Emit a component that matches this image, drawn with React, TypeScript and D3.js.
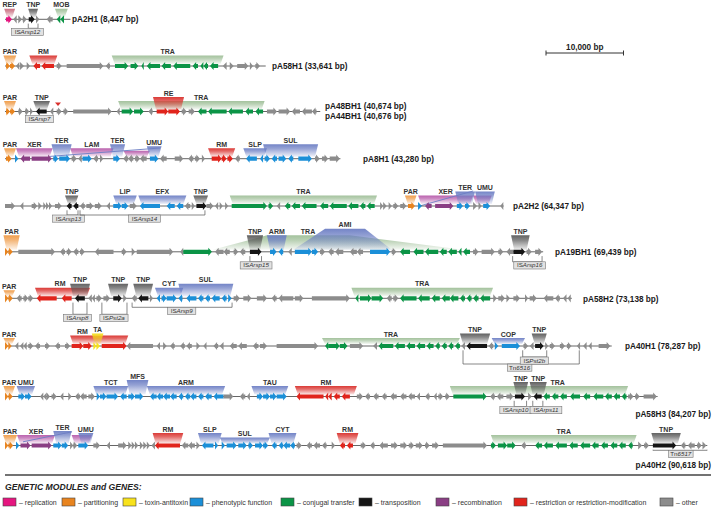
import React from 'react';
import * as d3 from 'd3';

type Gene = [number, number, number, string];
type ModOpts = { bot?: [number, number]; labelAt?: number };
type Mod = [number, number, string, string, number, ModOpts?];
type ISel = [number, number, number, number, string, string];
type Diag = [number, number, number, number];

// ---------- DATA (kb) ----------
const PLASMID_NAMES = ['pA2H1', 'pA58H1', 'pA48BH1', 'pA8H1', 'pA2H2', 'pA19BH1', 'pA58H2', 'pA40H1', 'pA58H3', 'pA40H2'];
const PLASMID_SIZES = [8447, 33641, 40674, 43280, 64347, 69439, 73138, 78287, 84207, 90618];
const EXTRA_NAME = 'pA44BH1';
const EXTRA_SIZE = 40676;

const GENES_A2H1: Gene[] = [
  [0.13, 0.9, 1, 'rep'], [1.07, 1.51, -1, 'oth'], [1.72, 2.19, 1, 'oth'], [2.28, 2.8, 1, 'oth'],
  [3.06, 3.83, 1, 'tnp'], [4.0, 4.43, 1, 'oth'], [5.38, 6.15, -1, 'oth'], [6.67, 7.14, -1, 'con'], [7.14, 7.61, -1, 'con'],
];
const MODS_A2H1: Mod[] = [[-0.1, 1.3, 'REP', 'rep', 1], [3.0, 4.26, 'TNP', 'tnp', 1], [6.45, 8.1, 'MOB', 'con', 1]];
const IS_A2H1: ISel[] = [[3.0, 4.26, 2.9, 9, 'IS', 'Arsp12']];

const GENES_A58H1: Gene[] = [
  [0.13, 0.65, 1, 'par'], [0.65, 1.29, 1, 'par'], [1.42, 1.85, -1, 'oth'], [1.94, 2.45, 1, 'oth'], [2.8, 3.23, 1, 'oth'],
  [3.66, 4.52, -1, 'rm'], [4.73, 6.32, -1, 'rm'], [6.67, 7.32, 1, 'oth'], [7.96, 12.69, 1, 'oth'], [13.0, 13.55, -1, 'oth'],
  [14.19, 15.9, 1, 'con'], [16.2, 17.2, 1, 'con'], [17.6, 17.9, -1, 'con'], [18.3, 20.0, -1, 'con'], [20.2, 21.4, -1, 'con'],
  [21.7, 23.9, -1, 'con'], [24.2, 24.9, -1, 'con'], [25.2, 25.6, -1, 'con'], [25.6, 26.2, -1, 'con'], [26.45, 27.5, -1, 'con'],
  [28.1, 28.6, -1, 'oth'], [29.0, 29.5, 1, 'oth'], [29.96, 31.4, 1, 'oth'], [31.6, 32.0, 1, 'oth'], [32.3, 32.9, 1, 'oth'],
];
const MODS_A58H1: Mod[] = [[-0.2, 1.45, 'PAR', 'par', 1], [3.14, 6.75, 'RM', 'rm', 1], [13.77, 28.2, 'TRA', 'con', 1]];

const GENES_A48BH1: Gene[] = [
  [0.13, 0.65, 1, 'par'], [0.65, 1.29, 1, 'par'], [1.72, 2.28, 1, 'oth'], [2.58, 3.14, 1, 'oth'], [3.23, 3.6, 1, 'oth'],
  [4.0, 5.38, -1, 'tnp'], [5.8, 6.23, -1, 'oth'], [6.67, 7.32, 1, 'oth'], [7.53, 8.17, 1, 'oth'], [8.8, 13.77, 1, 'oth'],
  [14.4, 14.8, -1, 'oth'], [15.05, 16.55, 1, 'con'], [16.65, 17.9, 1, 'con'], [18.5, 19.05, -1, 'oth'],
  [19.57, 21.07, 1, 'rm'], [21.07, 22.58, 1, 'rm'], [22.8, 23.45, 1, 'oth'], [23.7, 24.5, 1, 'oth'],
  [24.9, 26.0, -1, 'con'], [26.2, 28.6, -1, 'con'], [28.8, 30.7, -1, 'con'], [31.0, 32.0, -1, 'con'], [32.3, 33.3, -1, 'con'],
  [33.8, 35.1, 1, 'oth'], [35.3, 36.8, 1, 'oth'], [37.0, 38.06, -1, 'oth'], [38.3, 39.6, -1, 'oth'], [39.6, 40.2, -1, 'oth'],
];
const MODS_A48BH1: Mod[] = [
  [-0.13, 1.42, 'PAR', 'par', 1], [3.66, 5.8, 'TNP', 'tnp', 1],
  [14.6, 33.5, 'TRA', 'con', 1, { labelAt: 25.3 }], [19.1, 23.1, 'RE', 'rm', 3],
];
const IS_A48BH1: ISel[] = [[3.87, 5.55, 4.45, 4, 'IS', 'Arsp7']];
const MARK_A48BH1 = [6.84];

const GENES_A8H1: Gene[] = [
  [0.13, 0.86, 1, 'par'], [1.29, 1.72, 1, 'phe'], [2.0, 3.23, -1, 'rec'], [3.44, 6.03, 1, 'rec'],
  [6.23, 6.88, 1, 'phe'], [7.0, 8.39, 1, 'phe'], [8.6, 9.25, 1, 'oth'], [9.46, 9.9, -1, 'oth'], [10.0, 11.19, 1, 'phe'],
  [11.4, 12.0, -1, 'oth'], [12.26, 12.68, 1, 'oth'], [13.97, 14.84, 1, 'phe'],
  [15.26, 15.9, -1, 'oth'], [15.9, 16.55, -1, 'oth'], [16.77, 17.42, 1, 'oth'], [17.42, 18.28, -1, 'oth'],
  [18.7, 19.8, 1, 'phe'], [20.0, 20.86, -1, 'oth'], [21.9, 23.0, 1, 'oth'], [23.65, 24.3, -1, 'oth'], [24.5, 25.16, 1, 'oth'],
  [25.4, 25.8, 1, 'oth'], [26.67, 27.96, 1, 'rm'], [27.96, 28.6, 1, 'rm'], [28.7, 29.4, 1, 'rm'], [29.68, 30.3, -1, 'oth'],
  [31.1, 32.5, -1, 'phe'], [32.9, 33.3, -1, 'phe'], [33.5, 34.2, 1, 'phe'], [34.4, 35.1, -1, 'phe'], [35.3, 36.3, 1, 'phe'],
  [36.55, 37.2, -1, 'phe'], [37.85, 39.6, 1, 'phe'], [40.0, 40.6, 1, 'oth'], [40.9, 41.7, 1, 'oth'], [41.9, 43.2, 1, 'oth'],
];
const MODS_A8H1: Mod[] = [
  [-0.13, 1.42, 'PAR', 'par', 1], [1.42, 6.15, 'XER', 'rec', 1], [8.4, 14.0, 'LAM', 'rec', 1], [15.3, 18.7, '', 'rec', 0],
  [6.0, 8.6, 'TER', 'phe', 3], [13.55, 15.5, 'TER', 'phe', 3], [18.3, 20.2, 'UMU', 'phe', 2],
  [26.2, 29.7, 'RM', 'rm', 1], [30.75, 33.8, 'SLP', 'phe', 1], [33.3, 40.4, 'SUL', 'phe', 3],
];
const DIAG_A8H1: Diag[] = [[5.8, 2.3, 20.0, 10.7]];

const GENES_A2H2: Gene[] = [
  [0.0, 1.29, 1, 'oth'], [1.94, 2.37, -1, 'oth'], [3.44, 4.17, 1, 'oth'], [4.3, 4.73, 1, 'oth'], [4.94, 5.3, 1, 'oth'],
  [5.3, 5.68, 1, 'oth'], [5.68, 6.06, 1, 'oth'], [6.45, 7.32, 1, 'oth'], [7.96, 8.6, -1, 'tnp'], [8.8, 9.46, -1, 'tnp'],
  [9.68, 10.3, -1, 'oth'], [10.5, 11.4, 1, 'oth'], [11.6, 12.48, 1, 'oth'], [13.1, 13.55, -1, 'oth'],
  [13.97, 15.06, 1, 'phe'], [15.06, 15.9, 1, 'phe'], [16.1, 17.0, 1, 'oth'],
  [17.4, 20.0, -1, 'phe'], [20.86, 21.9, -1, 'phe'], [22.15, 23.0, -1, 'phe'], [23.2, 23.9, -1, 'oth'], [24.1, 24.5, 1, 'oth'],
  [24.7, 26.0, 1, 'tnp'], [26.0, 26.9, 1, 'oth'], [27.1, 27.5, -1, 'oth'], [27.7, 28.1, 1, 'oth'], [28.4, 28.8, 1, 'oth'],
  [29.25, 33.8, 1, 'con'], [34.0, 34.6, 1, 'con'], [35.05, 35.5, -1, 'oth'],
  [36.1, 36.8, -1, 'con'], [37.0, 38.06, -1, 'con'], [38.3, 40.2, -1, 'con'], [40.65, 41.7, -1, 'con'], [41.9, 44.1, -1, 'con'],
  [44.3, 45.6, -1, 'con'], [45.8, 46.5, -1, 'con'], [46.7, 47.7, -1, 'con'],
  [48.4, 48.8, 1, 'oth'], [48.8, 49.25, 1, 'oth'], [49.5, 49.9, 1, 'oth'], [50.1, 50.75, 1, 'oth'], [51.0, 51.8, 1, 'oth'],
  [52.0, 52.9, 1, 'par'], [53.3, 53.8, 1, 'phe'], [54.2, 55.05, -1, 'rec'], [55.5, 57.85, 1, 'rec'],
  [58.3, 59.1, 1, 'phe'], [59.35, 60.0, 1, 'phe'], [60.4, 60.9, 1, 'oth'], [61.1, 61.5, 1, 'oth'], [61.7, 62.6, 1, 'phe'],
  [63.9, 64.3, -1, 'oth'],
];
const MODS_A2H2: Mod[] = [
  [7.74, 9.46, 'TNP', 'tnp', 1], [13.97, 17.0, 'LIP', 'phe', 1], [17.2, 23.4, 'EFX', 'phe', 1], [24.3, 26.2, 'TNP', 'tnp', 1],
  [29.0, 48.0, 'TRA', 'con', 1], [51.6, 53.1, 'PAR', 'par', 1], [53.3, 60.4, 'XER', 'rec', 1], [60.4, 62.8, '', 'rec', 1],
  [58.1, 60.65, 'TER', 'phe', 3], [60.65, 63.2, 'UMU', 'phe', 3],
];
const IS_A2H2: ISel[] = [[8.0, 9.42, 8.2, 9, 'IS', 'Arsp13'], [9.68, 25.8, 18.0, 9, 'IS', 'Arsp14']];
const DIAG_A2H2: Diag[] = [[53.5, 0, 60.4, 15]];

const GENES_A19BH1: Gene[] = [
  [0, 0.43, 1, 'par'], [0.43, 1.0, 1, 'par'], [1.72, 6.45, 1, 'oth'], [7.1, 7.74, -1, 'oth'], [7.96, 8.6, 1, 'oth'],
  [8.8, 9.46, -1, 'oth'], [9.68, 10.3, 1, 'oth'], [11.6, 14.0, -1, 'oth'], [15.06, 15.7, 1, 'oth'], [16.35, 16.8, 1, 'oth'],
  [17.0, 21.7, 1, 'oth'], [22.6, 23.0, -1, 'oth'], [23.0, 26.7, 1, 'con'], [27.1, 28.2, -1, 'oth'], [28.2, 29.0, -1, 'oth'],
  [29.5, 30.1, 1, 'oth'], [30.3, 31.0, -1, 'oth'], [31.6, 33.1, 1, 'tnp'], [34.2, 35.05, 1, 'phe'], [35.3, 35.9, -1, 'phe'],
  [36.55, 37.0, -1, 'oth'], [37.4, 39.6, 1, 'phe'], [39.6, 40.4, 1, 'phe'], [40.65, 41.3, 1, 'oth'], [41.7, 42.4, -1, 'oth'],
  [42.6, 43.65, -1, 'oth'], [44.5, 45.4, -1, 'oth'], [45.4, 46.2, -1, 'oth'], [47.1, 49.7, 1, 'phe'], [49.9, 50.5, 1, 'oth'],
  [50.97, 52.26, -1, 'con'], [52.7, 54.0, -1, 'con'], [54.2, 55.9, -1, 'con'], [56.1, 57.0, -1, 'con'], [57.2, 58.3, -1, 'con'],
  [58.5, 58.9, -1, 'con'], [59.1, 60.0, -1, 'con'], [60.4, 61.1, 1, 'oth'], [61.5, 63.2, 1, 'oth'], [63.65, 64.3, 1, 'oth'],
  [64.7, 65.6, -1, 'oth'], [65.6, 67.1, 1, 'tnp'], [67.3, 67.96, 1, 'oth'], [68.4, 69.3, 1, 'oth'],
];
const MODS_A19BH1: Mod[] = [
  [-0.2, 1.9, 'PAR', 'par', 4],
  [33.8, 44.5, 'TRA', 'con', 4, { bot: [26.8, 59.1], labelAt: 39.1 }],
  [31.2, 33.3, 'TNP', 'tnp', 4], [33.8, 36.35, 'ARM', 'phe', 4],
  [41.3, 46.45, 'AMI', 'phe', 5, { bot: [37.2, 49.9] }],
  [65.3, 67.7, 'TNP', 'tnp', 4],
];
const IS_A19BH1: ISel[] = [[31.6, 33.1, 32.4, 10, 'IS', 'Arsp15'], [65.5, 69.3, 67.7, 10, 'IS', 'Arsp16']];

const GENES_A58H2: Gene[] = [
  [0, 0.43, 1, 'par'], [0.43, 1.0, 1, 'par'], [1.5, 2.15, -1, 'oth'], [2.37, 3.0, 1, 'oth'], [3.0, 3.65, 1, 'oth'],
  [4.1, 6.67, -1, 'rm'], [7.32, 8.6, -1, 'rm'], [9.03, 10.3, -1, 'tnp'], [10.75, 11.2, -1, 'oth'], [11.2, 11.6, -1, 'oth'],
  [11.8, 12.5, 1, 'oth'], [12.7, 13.55, 1, 'oth'], [13.97, 15.06, 1, 'tnp'], [15.26, 15.7, 1, 'oth'], [16.35, 17.0, -1, 'oth'],
  [17.2, 18.5, -1, 'tnp'], [18.7, 19.1, 1, 'oth'],
  [19.57, 20.0, -1, 'phe'], [20.2, 20.86, 1, 'phe'], [20.86, 22.15, 1, 'phe'], [22.37, 22.9, -1, 'phe'], [23.4, 24.7, -1, 'phe'],
  [24.9, 25.6, -1, 'phe'], [25.8, 26.45, -1, 'phe'], [26.67, 27.7, -1, 'phe'], [27.96, 28.6, -1, 'phe'], [28.8, 29.25, 1, 'phe'],
  [29.5, 30.3, 1, 'oth'], [30.75, 31.8, 1, 'oth'], [32.5, 33.8, 1, 'oth'], [34.4, 35.05, -1, 'oth'], [35.3, 37.2, -1, 'oth'],
  [37.4, 38.5, 1, 'oth'], [39.6, 44.5, 1, 'oth'],
  [45.2, 45.6, -1, 'con'], [45.8, 47.3, 1, 'con'], [47.3, 48.8, 1, 'con'], [49.25, 49.9, -1, 'oth'], [50.1, 50.75, 1, 'oth'],
  [50.97, 53.1, -1, 'con'], [53.3, 54.8, -1, 'con'], [55.05, 56.1, -1, 'con'], [56.35, 57.4, -1, 'con'], [57.4, 58.5, -1, 'con'],
  [58.7, 59.35, -1, 'con'], [59.57, 60.2, -1, 'con'], [60.4, 61.1, -1, 'con'], [61.3, 62.6, -1, 'con'],
  [63.0, 63.45, 1, 'oth'], [63.65, 64.5, 1, 'oth'], [64.7, 65.16, 1, 'oth'], [65.6, 66.45, 1, 'oth'], [67.1, 67.5, 1, 'oth'],
  [67.7, 68.6, 1, 'oth'], [69.5, 70.75, -1, 'oth'], [70.97, 71.6, -1, 'oth'], [72.0, 72.45, -1, 'oth'], [72.6, 73.0, -1, 'oth'],
];
const MODS_A58H2: Mod[] = [
  [-0.2, 1.29, 'PAR', 'par', 0], [3.87, 10.97, 'RM', 'rm', 1, { labelAt: 7.1 }], [8.4, 10.97, 'TNP', 'tnp', 3],
  [13.3, 15.9, 'TNP', 'tnp', 3], [16.55, 19.1, 'TNP', 'tnp', 3], [19.35, 23.0, 'CYT', 'phe', 1],
  [22.37, 29.46, 'SUL', 'phe', 3], [44.7, 62.97, 'TRA', 'con', 1],
];
const IS_A58H2: ISel[] = [
  [8.77, 10.58, 9.35, 16, 'IS', 'Arsp8'], [12.5, 15.74, 14.06, 16, 'IS', 'Pst2a'], [16.4, 29.3, 22.8, 9, 'IS', 'Arsp9'],
];

const GENES_A40H1: Gene[] = [
  [0, 0.43, 1, 'par'], [0.43, 0.86, 1, 'par'], [1.29, 1.72, -1, 'oth'], [1.94, 2.37, -1, 'oth'], [2.37, 2.8, -1, 'oth'],
  [3.0, 3.65, 1, 'oth'], [3.87, 4.52, -1, 'oth'], [5.16, 5.8, 1, 'oth'], [6.45, 7.1, -1, 'oth'], [7.74, 8.4, 1, 'oth'],
  [8.6, 10.1, 1, 'rm'], [10.1, 11.2, 1, 'rm'], [11.4, 11.8, 1, 'ta'], [11.8, 12.26, 1, 'ta'], [12.48, 15.7, 1, 'rm'],
  [15.7, 19.1, -1, 'oth'], [19.57, 20.0, -1, 'oth'], [20.4, 20.86, 1, 'oth'], [21.3, 21.9, -1, 'oth'], [22.6, 23.2, -1, 'oth'],
  [23.4, 24.1, -1, 'oth'], [24.7, 25.16, 1, 'oth'], [25.6, 26.0, -1, 'oth'], [26.9, 27.5, -1, 'oth'], [27.7, 28.2, -1, 'oth'],
  [29.0, 29.9, -1, 'oth'], [30.1, 31.2, -1, 'oth'], [32.0, 32.7, -1, 'oth'], [32.9, 33.8, 1, 'oth'], [35.05, 40.4, 1, 'oth'],
  [41.3, 41.7, -1, 'con'], [41.7, 43.2, 1, 'con'], [43.2, 44.2, 1, 'con'], [44.5, 46.2, 1, 'oth'], [47.5, 48.0, -1, 'oth'],
  [48.2, 50.1, -1, 'con'], [50.3, 51.6, -1, 'con'], [51.8, 52.9, -1, 'con'], [53.1, 54.2, -1, 'con'], [54.4, 55.3, -1, 'con'],
  [55.5, 56.1, -1, 'con'], [56.35, 57.0, -1, 'con'], [57.2, 57.85, -1, 'con'], [58.06, 58.7, -1, 'con'], [58.9, 59.35, -1, 'oth'],
  [59.57, 62.2, -1, 'tnp'], [62.4, 63.0, -1, 'oth'], [63.2, 63.65, 1, 'phe'], [64.1, 66.45, 1, 'phe'], [66.9, 67.5, 1, 'oth'],
  [67.7, 68.2, -1, 'oth'], [68.4, 69.5, 1, 'tnp'], [69.7, 70.1, 1, 'oth'], [70.3, 70.97, 1, 'oth'], [71.6, 72.26, 1, 'oth'],
  [72.5, 73.1, 1, 'oth'], [73.8, 74.2, -1, 'oth'], [74.6, 75.05, -1, 'oth'], [75.3, 75.7, -1, 'oth'], [76.6, 78.1, 1, 'oth'],
];
const MODS_A40H1: Mod[] = [
  [-0.2, 1.29, 'PAR', 'par', 0], [8.4, 15.9, 'RM', 'rm', 1, { labelAt: 10.0 }], [11.2, 12.7, 'TA', 'ta', 2],
  [40.9, 58.7, 'TRA', 'con', 0], [58.7, 62.6, 'TNP', 'tnp', 2], [62.8, 67.1, 'COP', 'phe', 0], [67.96, 69.9, 'TNP', 'tnp', 2],
];
const IS_A40H1: ISel[] = [[59.1, 74.1, 66.4, 18, 'Tn', '6516'], [66.8, 69.9, 68.3, 11, 'IS', 'Pst2b']];

const GENES_A58H3: Gene[] = [
  [0, 0.43, 1, 'par'], [0.43, 1.0, 1, 'par'], [1.72, 2.58, 1, 'phe'], [2.58, 3.44, 1, 'phe'],
  [4.52, 4.94, -1, 'oth'], [4.94, 5.38, -1, 'oth'], [5.38, 5.8, 1, 'oth'], [6.0, 6.67, 1, 'oth'], [7.1, 7.53, -1, 'oth'],
  [8.17, 8.6, 1, 'oth'], [9.03, 9.68, -1, 'oth'], [9.68, 10.54, -1, 'oth'], [10.75, 11.6, 1, 'oth'],
  [11.83, 12.26, 1, 'phe'], [12.26, 13.1, 1, 'phe'], [13.1, 14.6, 1, 'phe'], [14.84, 15.7, -1, 'phe'], [15.9, 16.77, 1, 'phe'],
  [16.77, 17.85, 1, 'phe'], [18.7, 19.57, -1, 'phe'], [19.57, 20.4, -1, 'phe'], [20.4, 21.3, -1, 'phe'], [21.3, 22.15, -1, 'phe'],
  [22.37, 23.0, -1, 'phe'], [23.2, 23.9, -1, 'phe'], [23.9, 24.7, -1, 'phe'], [24.9, 25.6, -1, 'phe'], [25.8, 26.67, -1, 'phe'],
  [26.9, 28.2, -1, 'phe'], [28.2, 29.46, 1, 'oth'], [30.3, 31.0, -1, 'oth'], [31.2, 31.6, -1, 'oth'],
  [32.5, 33.3, 1, 'phe'], [33.3, 34.2, 1, 'phe'], [34.2, 35.05, 1, 'phe'], [35.05, 36.35, 1, 'phe'],
  [37.6, 41.1, -1, 'rm'], [41.3, 41.7, -1, 'rm'], [41.7, 42.15, -1, 'rm'], [42.4, 43.2, -1, 'rm'], [43.45, 44.5, -1, 'rm'],
  [45.4, 46.2, 1, 'oth'], [46.45, 47.1, -1, 'oth'], [47.5, 48.2, -1, 'oth'], [48.6, 49.25, -1, 'oth'], [49.7, 50.55, -1, 'oth'],
  [50.97, 51.8, -1, 'oth'], [52.0, 52.9, -1, 'oth'], [53.1, 53.55, -1, 'oth'], [54.2, 54.8, -1, 'oth'], [55.3, 55.7, -1, 'oth'],
  [55.9, 56.55, 1, 'oth'], [56.8, 57.4, 1, 'oth'], [57.85, 62.15, 1, 'con'], [62.6, 63.2, -1, 'oth'], [63.45, 64.3, -1, 'oth'],
  [64.7, 65.6, 1, 'oth'], [65.8, 67.1, 1, 'tnp'], [67.5, 67.96, 1, 'oth'], [68.2, 69.25, -1, 'tnp'],
  [69.46, 70.3, -1, 'con'], [70.55, 71.4, -1, 'con'], [71.6, 72.5, -1, 'con'], [72.9, 74.2, -1, 'con'], [74.6, 75.5, -1, 'con'],
  [75.9, 77.2, -1, 'con'], [77.4, 78.3, -1, 'con'], [78.5, 79.35, -1, 'con'], [79.57, 80.2, -1, 'con'],
  [80.4, 81.1, 1, 'oth'], [81.3, 81.9, 1, 'oth'], [82.4, 84.1, 1, 'oth'],
];
const MODS_A58H3: Mod[] = [
  [-0.2, 1.29, 'PAR', 'par', 1], [1.5, 3.87, 'UMU', 'phe', 1], [11.4, 15.9, 'TCT', 'phe', 1], [15.7, 18.5, 'MFS', 'phe', 4],
  [18.3, 28.4, 'ARM', 'phe', 1], [31.8, 36.55, 'TAU', 'phe', 1], [37.4, 45.4, 'RM', 'rm', 1],
  [57.4, 80.4, 'TRA', 'con', 1, { labelAt: 71.3 }], [65.6, 67.5, 'TNP', 'tnp', 3], [67.7, 69.9, 'TNP', 'tnp', 3],
];
const IS_A58H3: ISel[] = [[65.7, 67.3, 65.9, 10, 'IS', 'Arsp10'], [68.1, 69.4, 69.8, 10, 'IS', 'Arps11']];

const GENES_A40H2: Gene[] = [
  [0, 0.43, 1, 'par'], [0.43, 1.07, 1, 'par'], [1.42, 1.85, 1, 'phe'], [2.0, 3.3, 1, 'rec'], [3.44, 6.03, 1, 'rec'],
  [6.23, 7.32, 1, 'phe'], [7.32, 8.17, 1, 'phe'], [8.4, 8.8, 1, 'oth'], [8.8, 9.33, 1, 'oth'], [9.46, 10.75, 1, 'phe'],
  [11.4, 12.26, 1, 'oth'], [13.1, 13.55, -1, 'oth'], [14.6, 15.7, 1, 'oth'], [15.9, 16.35, 1, 'oth'], [16.35, 16.77, 1, 'oth'],
  [16.77, 17.2, 1, 'oth'], [17.4, 17.85, 1, 'oth'], [17.85, 18.3, 1, 'oth'], [18.3, 18.7, 1, 'oth'], [18.9, 19.35, -1, 'oth'],
  [19.35, 22.58, -1, 'rm'], [22.8, 23.65, -1, 'oth'], [23.65, 24.5, -1, 'oth'], [24.7, 25.16, 1, 'oth'],
  [25.4, 26.9, -1, 'phe'], [27.1, 27.5, 1, 'phe'], [27.96, 28.4, 1, 'phe'], [28.6, 29.9, 1, 'phe'], [30.1, 31.2, 1, 'phe'],
  [31.4, 32.0, 1, 'phe'], [32.26, 33.3, 1, 'phe'], [33.3, 33.97, 1, 'phe'], [34.4, 35.05, -1, 'phe'], [35.3, 35.9, -1, 'phe'],
  [35.9, 36.8, -1, 'phe'], [36.8, 37.4, -1, 'phe'], [37.63, 38.3, 1, 'oth'], [38.9, 39.6, -1, 'oth'], [39.8, 40.65, -1, 'oth'],
  [40.9, 41.5, -1, 'oth'], [42.15, 42.6, 1, 'oth'], [43.2, 43.87, -1, 'rm'], [44.1, 44.9, -1, 'rm'],
  [45.9, 46.6, 1, 'oth'], [47.1, 47.7, -1, 'oth'], [48.3, 49.4, -1, 'oth'], [49.8, 50.7, 1, 'oth'], [51.0, 51.9, 1, 'oth'],
  [52.1, 52.8, 1, 'oth'], [53.0, 53.9, 1, 'oth'], [54.2, 54.8, 1, 'oth'], [55.1, 56.0, 1, 'oth'], [56.5, 62.2, 1, 'oth'],
  [62.7, 63.35, 1, 'con'], [63.6, 64.8, 1, 'con'], [64.8, 65.9, 1, 'con'], [66.6, 67.2, -1, 'oth'],
  [68.4, 69.3, -1, 'con'], [69.5, 70.7, -1, 'con'], [71.0, 72.5, -1, 'con'], [72.8, 73.9, -1, 'con'], [74.2, 75.5, -1, 'con'],
  [75.7, 76.6, -1, 'con'], [76.9, 77.8, -1, 'con'], [78.1, 79.0, -1, 'con'], [79.2, 80.1, -1, 'con'], [80.4, 81.0, -1, 'con'],
  [81.7, 82.2, 1, 'oth'], [82.45, 83.1, 1, 'oth'], [83.6, 86.6, 1, 'tnp'], [87.2, 87.8, -1, 'oth'], [88.1, 89.0, -1, 'oth'],
  [89.3, 89.9, 1, 'oth'], [90.0, 90.5, 1, 'oth'],
];
const MODS_A40H2: Mod[] = [
  [-0.25, 1.55, 'PAR', 'par', 1], [1.55, 6.45, 'XER', 'rec', 1], [8.6, 11.2, '', 'rec', 1], [6.23, 8.6, 'TER', 'phe', 3],
  [9.46, 11.4, 'UMU', 'phe', 2], [19.05, 23.0, 'RM', 'rm', 2], [27.7, 34.2, 'SUL', 'phe', 0], [24.9, 27.96, 'SLP', 'phe', 2],
  [34.0, 37.6, 'CYT', 'phe', 2], [42.8, 45.6, 'RM', 'rm', 2], [62.7, 81.5, 'TRA', 'con', 1], [83.4, 87.2, 'TNP', 'tnp', 2],
];
const IS_A40H2: ISel[] = [[83.6, 90.6, 87.2, 4.8, 'Tn', '6517']];
const DIAG_A40H2: Diag[] = [[2.32, 3.7, 8.65, 13.7]];

const LEGEND_CATS = ['rep', 'par', 'ta', 'phe', 'con', 'tnp', 'rec', 'rm', 'oth'];
const LEGEND_LABELS = ['replication', 'partitioning', 'toxin-antitoxin', 'phenotypic function', 'conjugal transfer',
  'transposition', 'recombination', 'restriction or restriction-modification', 'other'];
const SCALE_BAR_BP = 10000;

// ---------- LAYOUT / STYLE ----------
const X0 = 5;
const PX_PER_KB = 7.75;
const ROW_Y = [19.3, 66, 111.5, 158.7, 206, 251.8, 298.3, 346, 396.5, 445.5];
const LABEL_POS: [number, number, string][] = [
  [72, 22.3, 'start'], [272, 69.2, 'start'], [325, 108.8, 'start'], [363, 161.5, 'start'], [513, 209, 'start'],
  [555, 254.8, 'start'], [583, 301.5, 'start'], [625, 349, 'start'], [711, 417, 'end'], [711, 467.5, 'end'],
];
const EXTRA_LABEL_POS: [number, number] = [325, 118.8];
const TIER_H = [8, 10.5, 12.5, 14.5, 16.5, 23];
const LEGEND_X = [3, 62, 123, 190, 281, 359, 436, 514, 660];

const GENE_COLORS: Record<string, string> = {
  rep: '#e5157f', par: '#e8841f', ta: '#f8e21c', phe: '#1b8fd8', con: '#0b9446',
  tnp: '#151515', rec: '#8a3e84', rm: '#e1241c', oth: '#8c8c8c',
};
const MOD_COLORS: Record<string, string> = {
  rep: '#c86a7c', par: '#ef9a45', ta: '#f4dc18', phe: '#6c7ec4', con: '#9fbf98',
  tnp: '#5a5a5a', rec: '#b75aaa', rm: '#d9302c', oth: '#8c8c8c',
};

const ROWS = [
  { genes: GENES_A2H1, mods: MODS_A2H1, is: IS_A2H1, diag: [] as Diag[], marks: [] as number[] },
  { genes: GENES_A58H1, mods: MODS_A58H1, is: [] as ISel[], diag: [] as Diag[], marks: [] as number[] },
  { genes: GENES_A48BH1, mods: MODS_A48BH1, is: IS_A48BH1, diag: [] as Diag[], marks: MARK_A48BH1 },
  { genes: GENES_A8H1, mods: MODS_A8H1, is: [] as ISel[], diag: DIAG_A8H1, marks: [] as number[] },
  { genes: GENES_A2H2, mods: MODS_A2H2, is: IS_A2H2, diag: DIAG_A2H2, marks: [] as number[] },
  { genes: GENES_A19BH1, mods: MODS_A19BH1, is: IS_A19BH1, diag: [] as Diag[], marks: [] as number[] },
  { genes: GENES_A58H2, mods: MODS_A58H2, is: IS_A58H2, diag: [] as Diag[], marks: [] as number[] },
  { genes: GENES_A40H1, mods: MODS_A40H1, is: IS_A40H1, diag: [] as Diag[], marks: [] as number[] },
  { genes: GENES_A58H3, mods: MODS_A58H3, is: IS_A58H3, diag: [] as Diag[], marks: [] as number[] },
  { genes: GENES_A40H2, mods: MODS_A40H2, is: IS_A40H2, diag: DIAG_A40H2, marks: [] as number[] },
];

const fmt = d3.format(',');
const FONT = "'Liberation Sans', Arial, Helvetica, sans-serif";

function arrowPath(xa: number, xb: number, strand: number, y: number): string {
  const len = xb - xa;
  const hl = Math.min(len, 3.6);
  const bh = 2.1;
  const hh = 4.1;
  let pts: [number, number][];
  if (strand > 0) {
    const b = xb - hl;
    pts = len <= hl + 0.4
      ? [[xa, y - hh], [xb, y], [xa, y + hh]]
      : [[xa, y - bh], [b, y - bh], [b, y - hh], [xb, y], [b, y + hh], [b, y + bh], [xa, y + bh]];
  } else {
    const b = xa + hl;
    pts = len <= hl + 0.4
      ? [[xb, y - hh], [xa, y], [xb, y + hh]]
      : [[xb, y - bh], [b, y - bh], [b, y - hh], [xa, y], [b, y + hh], [b, y + bh], [xb, y + bh]];
  }
  return (d3.line()(pts) || '') + 'Z';
}

export default function App() {
  const x = d3.scaleLinear().domain([0, 100]).range([X0, X0 + 100 * PX_PER_KB]);
  const lineGen = d3.line();

  return (
    <svg width={713} height={510} style={{ position: 'absolute', left: 0, top: 0, background: '#fff' }} fontFamily={FONT}>
      <defs>
        {Object.keys(MOD_COLORS).map((k) => (
          <linearGradient key={k} id={`mg-${k}`} x1="0" y1="0" x2="0" y2="1">
            <stop offset="0" stopColor={MOD_COLORS[k]} stopOpacity={0.95} />
            <stop offset="0.35" stopColor={MOD_COLORS[k]} stopOpacity={0.72} />
            <stop offset="1" stopColor={MOD_COLORS[k]} stopOpacity={0.1} />
          </linearGradient>
        ))}
      </defs>
      <rect width={713} height={510} fill="#fff" />

      {ROWS.map((row, ri) => {
        const y = ROW_Y[ri];
        const size = PLASMID_SIZES[ri] / 1000;
        return (
          <g key={ri}>
            {row.mods.map((m, mi) => {
              const [a, b, label, cat, tier, opts] = m;
              const h = TIER_H[tier];
              const xa = x(a), xb = x(b);
              const inset = Math.min(3, (xb - xa) / 4);
              const ba = opts && opts.bot ? x(opts.bot[0]) : xa + inset;
              const bb = opts && opts.bot ? x(opts.bot[1]) : xb - inset;
              const pts: [number, number][] = [[xa, y - h], [xb, y - h], [bb, y - 2], [ba, y - 2]];
              const lx = opts && opts.labelAt !== undefined ? x(opts.labelAt) : (xa + xb) / 2;
              return (
                <g key={mi}>
                  <path d={(lineGen(pts) || '') + 'Z'} fill={`url(#mg-${cat})`} />
                  {label && (
                    <text x={lx} y={y - h - 1.4} textAnchor="middle" fontSize={7} fontWeight="bold" fill="#333">{label}</text>
                  )}
                </g>
              );
            })}
            {row.diag.map((d, di) => (
              <line key={di} x1={x(d[0])} y1={y - d[1]} x2={x(d[2])} y2={y - d[3]} stroke="#6c7ec4" strokeWidth={0.9} />
            ))}
            <line x1={x(0)} x2={x(size)} y1={y} y2={y} stroke="#555" strokeWidth={0.9} />
            {row.genes.map((g, gi) => (
              <path key={gi} d={arrowPath(x(g[0]), x(g[1]), g[2], y)} fill={GENE_COLORS[g[3]]} />
            ))}
            {row.marks.map((mk, i) => (
              <path key={i} d={(lineGen([[x(mk) - 3, y - 9], [x(mk) + 3, y - 9], [x(mk), y - 5.5]]) || '') + 'Z'} fill="#d9302c" />
            ))}
            {row.is.map((s, si) => {
              const [s0, s1, c, depth, pre, ital] = s;
              const w = (pre.length + ital.length) * 3.6 + 3;
              const xs = x(s0), xe = x(s1), xc = x(c);
              const top = y + depth;
              return (
                <g key={si}>
                  {depth > 4.5 && (
                    <path d={`M${xs},${y + 4.3}V${top}H${xe}V${y + 4.3}`} fill="none" stroke="#555" strokeWidth={0.7} />
                  )}
                  <rect x={xc - w / 2} y={top} width={w} height={7.2} fill="#e2e2e2" stroke="#777" strokeWidth={0.6} />
                  <text x={xc} y={top + 5.6} textAnchor="middle" fontSize={6.2} fill="#333">
                    {pre}<tspan fontStyle="italic">{ital}</tspan>
                  </text>
                </g>
              );
            })}
            <text x={LABEL_POS[ri][0]} y={LABEL_POS[ri][1]} textAnchor={LABEL_POS[ri][2] as any} fontSize={8.2}
              fontWeight="bold" fill="#1a1a1a">
              {`${PLASMID_NAMES[ri]} (${fmt(PLASMID_SIZES[ri])} bp)`}
            </text>
            {ri === 2 && (
              <text x={EXTRA_LABEL_POS[0]} y={EXTRA_LABEL_POS[1]} fontSize={8.2} fontWeight="bold" fill="#1a1a1a">
                {`${EXTRA_NAME} (${fmt(EXTRA_SIZE)} bp)`}
              </text>
            )}
          </g>
        );
      })}

      {/* scale bar */}
      <g>
        <line x1={546} x2={546 + (SCALE_BAR_BP / 1000) * PX_PER_KB} y1={53} y2={53} stroke="#333" strokeWidth={1} />
        <line x1={546} x2={546} y1={50.5} y2={55.5} stroke="#333" strokeWidth={1} />
        <line x1={546 + (SCALE_BAR_BP / 1000) * PX_PER_KB} x2={546 + (SCALE_BAR_BP / 1000) * PX_PER_KB} y1={50.5} y2={55.5} stroke="#333" strokeWidth={1} />
        <text x={546 + (SCALE_BAR_BP / 2000) * PX_PER_KB} y={50} textAnchor="middle" fontSize={8.2} fontWeight="bold" fill="#222">
          {`${fmt(SCALE_BAR_BP)} bp`}
        </text>
      </g>

      {/* separator & legend */}
      <line x1={5} x2={711} y1={475} y2={475} stroke="#444" strokeWidth={1.3} />
      <text x={5} y={490} fontSize={8.6} fontWeight="bold" fontStyle="italic" fill="#222">GENETIC MODULES and GENES:</text>
      {LEGEND_CATS.map((c, i) => (
        <g key={c}>
          <rect x={LEGEND_X[i]} y={498} width={13} height={8} fill={GENE_COLORS[c]} stroke="#444" strokeWidth={0.6} />
          <text x={LEGEND_X[i] + 16} y={505} fontSize={7} fill="#333">{`– ${LEGEND_LABELS[i]}`}</text>
        </g>
      ))}
    </svg>
  );
}
